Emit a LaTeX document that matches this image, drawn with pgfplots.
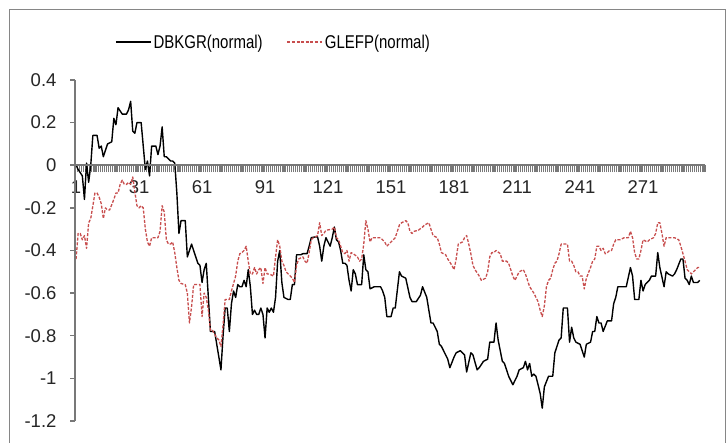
\documentclass[border=0pt]{standalone}
\usepackage{pgfplots}
\pgfplotsset{compat=1.18}
\usepackage{fontspec}
\setmainfont{Liberation Sans}
\newfontfamily\legfont[FakeStretch=0.81]{Liberation Sans}
\definecolor{axgray}{RGB}{120,120,120}
\definecolor{serred}{RGB}{200,78,78}
\begin{document}
\begin{tikzpicture}
\useasboundingbox (0pt,0pt) rectangle (726pt,443pt);
\fill[white] (0pt,0pt) rectangle (726pt,443pt);
\draw[axgray!90, line width=1pt] (9pt,-5pt) rectangle (725pt,433pt);
\begin{axis}[
  at={(75pt,22pt)}, anchor=south west,
  scale only axis, width=630pt, height=341pt,
  xmin=0.5, xmax=300.5, ymin=-1.2, ymax=0.4,
  enlargelimits=false,
  axis x line*=middle, axis y line*=left,
  axis line style={draw=axgray, line width=1.8pt},
  xtick={1,31,61,91,121,151,181,211,241,271},
  xticklabels={1,31,61,91,121,151,181,211,241,271},
  minor xtick={0.5,1.5,...,300.5},
  xtick align=outside, ytick align=outside,
  major x tick style={draw=none},
  minor x tick style={draw=axgray, line width=1.2pt},
  minor tick length=7pt,
  ytick={-1.2,-1,-0.8,-0.6,-0.4,-0.2,0,0.2,0.4},
  yticklabels={-1.2,-1,-0.8,-0.6,-0.4,-0.2,0,0.2,0.4},
  y tick style={draw=axgray, line width=1.5pt},
  major tick length=5pt,
  tick label style={font=\fontsize{18.5pt}{20pt}\selectfont, text=black!85},
  yticklabel style={xshift=-10pt},
  xticklabel style={yshift=-7pt},
  legend style={at={(0.0635,1.111)}, anchor=west, draw=none, fill=none,
    inner sep=0pt, font=\legfont\fontsize{18.5pt}{20pt}\selectfont,
    /tikz/every even column/.append style={column sep=22pt}},
  legend columns=2,
  legend cell align=left,
  legend image code/.code={\draw[#1] (0pt,0pt) -- (35pt,0pt);},
  clip=false,
]
\addplot[black, line width=1.4pt, line join=round] coordinates {
(1,0) (2,-0.02) (4,-0.05) (5,-0.16) (6,0.01) (7,-0.08) (8,0) (9,0.14) (11,0.14) (12,0.08) (13,0.09) (14,0.04) (15,0.07) (16,0.10) (18,0.11) (19,0.22) (20,0.19) (21,0.27) (23,0.24) (25,0.24) (26,0.26) (27,0.30) (28,0.16) (29,0.15) (30,0.20) (32,0.20) (33,0.09) (34,-0.02) (35,0.02) (36,-0.05) (37,0.09) (39,0.09) (40,0.05) (41,0.09) (42,0.18) (43,0.04) (44,0.04) (46,0.02) (47,0.02) (48,0.01) (49,-0.13) (50,-0.32) (51,-0.26) (53,-0.26) (54,-0.43) (55,-0.40) (56,-0.37) (57,-0.40) (58,-0.43) (59,-0.46) (60,-0.47) (61,-0.55) (62,-0.49) (63,-0.46) (64,-0.62) (65,-0.78) (67,-0.78) (68,-0.84) (70,-0.96) (71,-0.80) (72,-0.67) (73,-0.67) (74,-0.78) (75,-0.65) (76,-0.59) (77,-0.62) (78,-0.56) (79,-0.57) (80,-0.57) (81,-0.54) (82,-0.57) (83,-0.49) (84,-0.57) (85,-0.70) (86,-0.68) (87,-0.70) (88,-0.70) (89,-0.67) (90,-0.70) (91,-0.81) (92,-0.67) (93,-0.69) (94,-0.67) (95,-0.69) (96,-0.62) (97,-0.45) (98,-0.40) (99,-0.55) (100,-0.62) (102,-0.63) (103,-0.63) (104,-0.56) (105,-0.56) (106,-0.42) (108,-0.42) (109,-0.415) (111,-0.415) (112,-0.38) (113,-0.34) (115,-0.336) (116,-0.336) (117,-0.38) (118,-0.45) (119,-0.38) (120,-0.34) (121,-0.36) (122,-0.38) (123,-0.34) (124,-0.29) (125,-0.35) (126,-0.36) (127,-0.40) (128,-0.46) (129,-0.46) (130,-0.47) (131,-0.54) (132,-0.59) (133,-0.49) (134,-0.51) (135,-0.56) (137,-0.56) (138,-0.42) (139,-0.49) (140,-0.50) (141,-0.58) (143,-0.57) (146,-0.57) (147,-0.59) (148,-0.62) (149,-0.71) (151,-0.71) (152,-0.67) (153,-0.67) (155,-0.50) (156,-0.52) (158,-0.53) (160,-0.62) (161,-0.64) (163,-0.64) (165,-0.61) (166,-0.57) (168,-0.62) (170,-0.74) (171,-0.74) (173,-0.78) (174,-0.84) (175,-0.85) (177,-0.89) (178,-0.91) (179,-0.95) (181,-0.90) (182,-0.88) (184,-0.87) (185,-0.88) (186,-0.89) (187,-0.97) (189,-0.88) (190,-0.89) (192,-0.96) (193,-0.95) (195,-0.92) (197,-0.91) (198,-0.83) (200,-0.83) (201,-0.74) (202,-0.82) (204,-0.92) (205,-0.93) (207,-0.99) (209,-1.03) (211,-0.99) (212,-0.96) (214,-0.95) (215,-0.92) (216,-0.96) (217,-0.93) (218,-0.99) (219,-0.98) (220,-0.99) (222,-1.07) (223,-1.14) (224,-1.04) (226,-0.99) (228,-0.99) (229,-0.88) (231,-0.82) (232,-0.81) (233,-0.67) (235,-0.67) (236,-0.83) (237,-0.76) (238,-0.81) (239,-0.83) (241,-0.84) (243,-0.90) (244,-0.84) (246,-0.83) (247,-0.78) (248,-0.78) (249,-0.71) (250,-0.74) (251,-0.74) (252,-0.78) (254,-0.73) (256,-0.73) (257,-0.65) (258,-0.62) (259,-0.57) (263,-0.57) (265,-0.48) (266,-0.52) (267,-0.63) (269,-0.63) (270,-0.54) (271,-0.59) (272,-0.56) (274,-0.54) (275,-0.52) (277,-0.52) (278,-0.41) (279,-0.48) (281,-0.57) (282,-0.50) (283,-0.51) (285,-0.52) (286,-0.51) (287,-0.49) (289,-0.44) (290,-0.44) (291,-0.53) (292,-0.54) (293,-0.56) (294,-0.52) (295,-0.55) (297,-0.55) (298,-0.54)
};
\addlegendentry{DBKGR(normal)}
\addplot[serred, line width=1.3pt, dash pattern=on 3pt off 1.6pt, line join=round] coordinates {
(1,-0.44) (2,-0.32) (3,-0.32) (4,-0.35) (5,-0.33) (6,-0.39) (7,-0.27) (8,-0.25) (9,-0.19) (10,-0.13) (11,-0.13) (12,-0.15) (13,-0.18) (14,-0.25) (15,-0.20) (16,-0.21) (17,-0.21) (19,-0.16) (20,-0.13) (21,-0.13) (22,-0.09) (23,-0.07) (24,-0.09) (25,-0.09) (26,-0.08) (27,-0.09) (28,-0.055) (29,-0.125) (30,-0.19) (31,-0.20) (32,-0.19) (33,-0.20) (34,-0.30) (35,-0.36) (36,-0.38) (37,-0.34) (38,-0.34) (40,-0.34) (41,-0.31) (42,-0.19) (43,-0.22) (44,-0.35) (45,-0.37) (46,-0.37) (47,-0.36) (48,-0.41) (49,-0.48) (50,-0.54) (51,-0.555) (53,-0.56) (54,-0.60) (55,-0.74) (56,-0.665) (57,-0.56) (60,-0.56) (61,-0.71) (62,-0.60) (63,-0.62) (64,-0.68) (65,-0.775) (66,-0.775) (68,-0.81) (69,-0.82) (70,-0.85) (71,-0.75) (72,-0.63) (74,-0.63) (75,-0.59) (76,-0.555) (77,-0.52) (78,-0.45) (79,-0.415) (80,-0.41) (81,-0.40) (82,-0.38) (83,-0.45) (84,-0.51) (85,-0.51) (86,-0.48) (87,-0.51) (88,-0.49) (89,-0.48) (90,-0.555) (91,-0.48) (92,-0.51) (93,-0.51) (95,-0.52) (96,-0.43) (97,-0.35) (98,-0.38) (99,-0.45) (100,-0.47) (101,-0.50) (103,-0.52) (104,-0.53) (105,-0.55) (106,-0.47) (107,-0.44) (109,-0.43) (110,-0.45) (111,-0.46) (112,-0.41) (113,-0.35) (114,-0.34) (116,-0.33) (117,-0.27) (118,-0.33) (119,-0.32) (120,-0.305) (123,-0.30) (124,-0.29) (125,-0.34) (126,-0.35) (127,-0.38) (128,-0.41) (129,-0.415) (130,-0.40) (131,-0.45) (132,-0.41) (133,-0.415) (135,-0.43) (136,-0.45) (137,-0.44) (138,-0.37) (139,-0.26) (140,-0.30) (141,-0.36) (142,-0.34) (146,-0.34) (147,-0.35) (148,-0.36) (149,-0.38) (150,-0.37) (151,-0.36) (153,-0.34) (155,-0.28) (156,-0.27) (158,-0.26) (159,-0.27) (160,-0.31) (161,-0.32) (162,-0.31) (164,-0.305) (166,-0.29) (167,-0.28) (169,-0.27) (170,-0.30) (171,-0.33) (173,-0.34) (174,-0.37) (175,-0.41) (177,-0.42) (178,-0.44) (180,-0.47) (181,-0.49) (182,-0.44) (183,-0.37) (185,-0.36) (186,-0.34) (187,-0.33) (188,-0.37) (189,-0.415) (190,-0.47) (191,-0.49) (193,-0.52) (194,-0.54) (196,-0.53) (197,-0.50) (198,-0.43) (199,-0.41) (200,-0.41) (201,-0.40) (203,-0.415) (204,-0.45) (206,-0.45) (207,-0.46) (209,-0.52) (210,-0.54) (211,-0.52) (212,-0.50) (214,-0.49) (215,-0.51) (216,-0.54) (217,-0.57) (219,-0.60) (220,-0.62) (221,-0.64) (222,-0.68) (223,-0.71) (224,-0.66) (225,-0.57) (226,-0.54) (227,-0.53) (228,-0.49) (229,-0.46) (230,-0.45) (231,-0.415) (232,-0.37) (235,-0.37) (236,-0.45) (237,-0.45) (238,-0.47) (239,-0.50) (240,-0.50) (241,-0.52) (242,-0.52) (243,-0.58) (244,-0.53) (246,-0.48) (247,-0.45) (248,-0.44) (249,-0.38) (250,-0.38) (251,-0.40) (252,-0.39) (253,-0.415) (254,-0.41) (255,-0.40) (256,-0.40) (257,-0.37) (258,-0.35) (259,-0.35) (260,-0.35) (262,-0.34) (263,-0.34) (264,-0.34) (265,-0.31) (266,-0.34) (267,-0.41) (268,-0.44) (269,-0.44) (270,-0.40) (271,-0.35) (273,-0.36) (274,-0.35) (276,-0.34) (277,-0.32) (278,-0.27) (279,-0.27) (280,-0.32) (281,-0.38) (282,-0.34) (283,-0.34) (285,-0.34) (286,-0.34) (288,-0.35) (289,-0.38) (290,-0.415) (291,-0.45) (292,-0.49) (293,-0.50) (294,-0.51) (295,-0.50) (296,-0.49) (297,-0.48) (298,-0.48)
};
\addlegendentry{GLEFP(normal)}
\end{axis}
\draw[axgray, line width=2pt] (75pt,22pt) -- (75pt,363pt);
\draw[axgray, line width=2pt] (75pt,278pt) -- (705pt,278pt);
\end{tikzpicture}
\end{document}
